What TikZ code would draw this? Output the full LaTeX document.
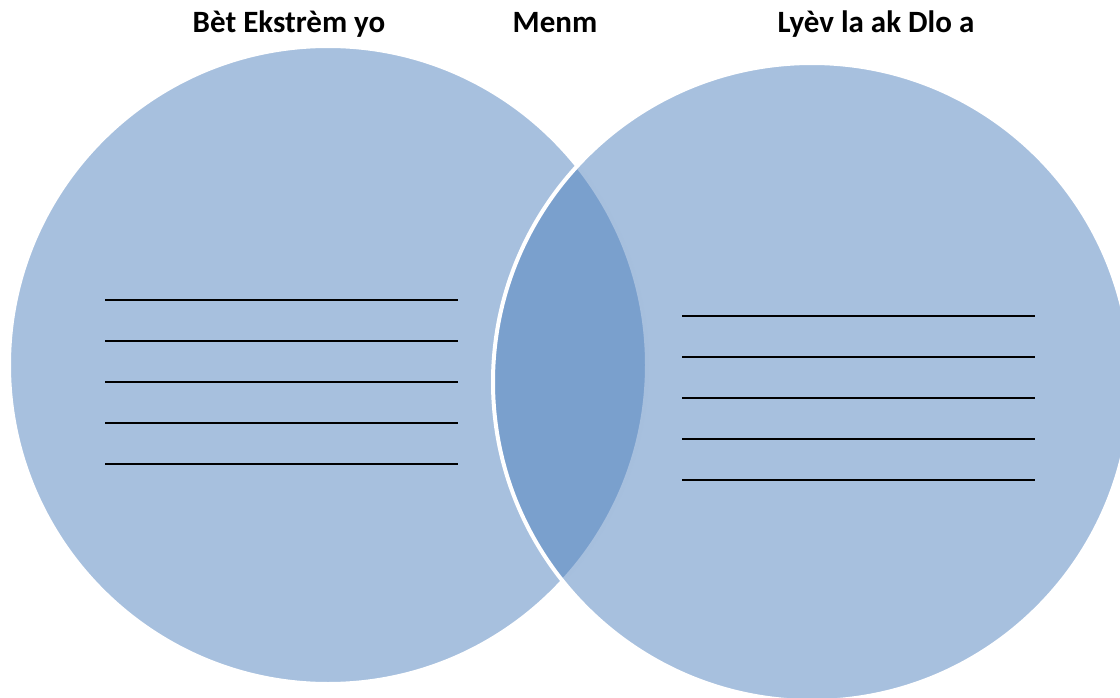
\documentclass[tikz,border=0pt]{standalone}
\usepackage{fontspec}
\setmainfont{Carlito}
\usetikzlibrary{positioning}
\definecolor{vennblue}{RGB}{79,129,189}

\begin{document}
\begin{tikzpicture}[x=1pt,y=-1pt,
	set/.style={circle,draw=white,line width=4pt,fill=vennblue,fill opacity=0.5,inner sep=0pt,minimum size=638pt},
	title/.style={anchor=base,inner sep=0pt,font=\fontsize{31}{37}\selectfont\bfseries},
	blank/.style={line width=2.6pt}]
	\useasboundingbox (0,0) rectangle (1120,698);
	
	\node[set] (A) at (328,365) {};
	\node[set] (B) at (812,382) {};
	
	\node[title] (tA) at (289,33) {Bèt Ekstrèm yo};
	\node[title] (tM) at (555,33) {Menm};
	\node[title] (tB) at (876,33) {Lyèv la ak Dlo a};
	
	% blanks to fill in
	\foreach \y in {300,341,382,423,464}
	\draw[blank] (105,\y) -- (458,\y);
	\foreach \y in {316,357,398,439,480}
	\draw[blank] (682,\y) -- (1035,\y);
\end{tikzpicture}
\end{document}
